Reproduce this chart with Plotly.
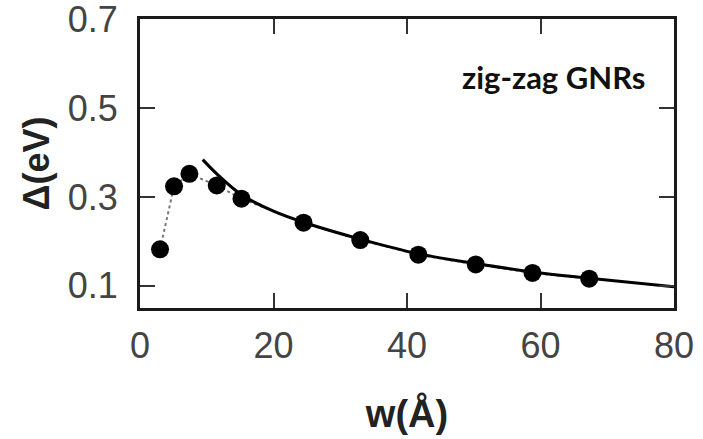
import plotly.graph_objects as go

# Data points (width in Å, gap in eV)
w_data = [3.0, 5.1, 7.4, 11.5, 15.2, 24.5, 33.0, 41.7, 50.3, 58.8, 67.3]
gap_data = [0.182, 0.324, 0.352, 0.326, 0.296, 0.242, 0.203, 0.170, 0.148, 0.129, 0.116]

# Fit curve
w_fit = [9.4, 11.5, 15.2, 20.0, 24.5, 33.0, 41.7, 50.3, 58.8, 67.3, 80.0]
gap_fit = [0.384, 0.352, 0.305, 0.268, 0.243, 0.205, 0.172, 0.150, 0.131, 0.117, 0.098]

x_ticks = [0, 20, 40, 60, 80]
y_ticks = [0.1, 0.3, 0.5, 0.7]

fig = go.Figure()
fig.add_trace(go.Scatter(
    x=w_data, y=gap_data, mode="lines+markers",
    line=dict(color="#777777", width=2, dash="dot"),
    marker=dict(color="black", size=18),
    showlegend=False, cliponaxis=False,
))
fig.add_trace(go.Scatter(
    x=w_fit, y=gap_fit, mode="lines",
    line=dict(color="black", width=3, shape="spline"),
    showlegend=False,
))

axis_common = dict(
    showline=True, linecolor="#1a1a1a", linewidth=3, mirror="ticks",
    ticks="inside", ticklen=15, tickwidth=2, tickcolor="#333333",
    showgrid=False, zeroline=False, automargin=False,
    ticklabeloverflow="allow",
    tickfont=dict(family="Liberation Sans, Arial, sans-serif", size=36, color="#444444"),
)

fig.update_xaxes(range=[0, 80], tickvals=x_ticks, ticktext=[str(v) for v in x_ticks],
                 ticklabelstandoff=4,
                 title=dict(text="<b>w(Å)</b>", standoff=36,
                            font=dict(family="Liberation Sans, Arial, sans-serif", size=38, color="#222222")),
                 **axis_common)
fig.update_yaxes(range=[0.05, 0.7005], tickvals=y_ticks, ticktext=[f"{v:.1f}" for v in y_ticks],
                 ticklabelstandoff=12,
                 title=dict(text="<b>Δ(eV)</b>", standoff=8,
                            font=dict(family="Liberation Sans, Arial, sans-serif", size=36, color="#222222")),
                 **axis_common)

fig.add_annotation(
    x=0.774, y=0.80, xref="paper", yref="paper",
    xanchor="center", yanchor="middle",
    text="<b>zig-zag GNRs</b>", showarrow=False,
    font=dict(family="Lato, Open Sans, sans-serif", size=31, color="#111111"),
)

fig.update_layout(
    width=703, height=439,
    margin=dict(l=140, r=29, t=19, b=131),
    plot_bgcolor="white", paper_bgcolor="white",
)

fig.write_html(
    "out.html",
    config={"displayModeBar": False},
    post_script="document.body.style.margin='0px';document.body.style.overflow='hidden';",
)
